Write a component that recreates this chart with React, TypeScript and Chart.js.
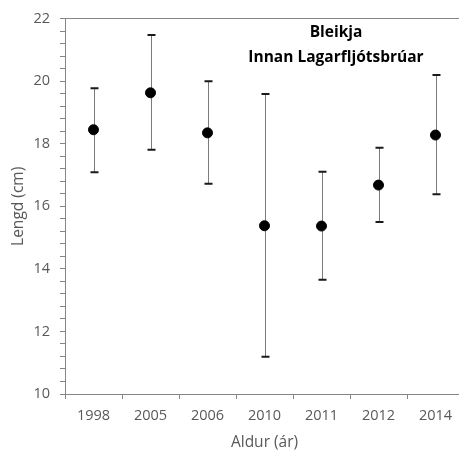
import React, { useEffect, useRef } from "react";
import { Chart, registerables } from "chart.js";

Chart.register(...registerables);

const categories = ["1998", "2005", "2006", "2010", "2011", "2012", "2014"];
const means = [18.45, 19.63, 18.35, 15.38, 15.37, 16.68, 18.28];
const upper = [19.78, 21.48, 20.0, 19.59, 17.11, 17.87, 20.2];
const lower = [17.09, 17.81, 16.72, 11.19, 13.65, 15.5, 16.39];
const titleLines = ["Bleikja", "Innan Lagarfljótsbrúar"];
const xTitle = "Aldur (ár)";
const yTitle = "Lengd (cm)";

const AXIS = "#868686";
const TEXT = "#595959";
const FONT = "'Open Sans', 'Liberation Sans', sans-serif";

const errorBarPlugin = {
  id: "errorBars",
  beforeDatasetsDraw(chart: any) {
    const { ctx, scales } = chart;
    const x = scales.x;
    const y = scales.y;
    ctx.save();
    categories.forEach((_, i) => {
      const px = Math.round(x.getPixelForValue(i)) + 0.5;
      const top = y.getPixelForValue(upper[i]);
      const bot = y.getPixelForValue(lower[i]);
      ctx.strokeStyle = "#7a7a7a";
      ctx.lineWidth = 1;
      ctx.beginPath();
      ctx.moveTo(px, top);
      ctx.lineTo(px, bot);
      ctx.stroke();
      ctx.strokeStyle = "#1a1a1a";
      ctx.lineWidth = 2;
      ctx.beginPath();
      ctx.moveTo(px - 4, top);
      ctx.lineTo(px + 4, top);
      ctx.moveTo(px - 4, bot);
      ctx.lineTo(px + 4, bot);
      ctx.stroke();
    });
    ctx.restore();
  },
};

const innerTitlePlugin = {
  id: "innerTitle",
  afterDraw(chart: any) {
    const { ctx } = chart;
    ctx.save();
    ctx.fillStyle = "#000";
    ctx.font = `bold 15.5px ${FONT}`;
    ctx.textAlign = "center";
    ctx.textBaseline = "middle";
    ctx.fillText(titleLines[0], 336, 33);
    ctx.fillText(titleLines[1], 336, 58);
    ctx.restore();
  },
};

export default function App() {
  const ref = useRef<HTMLCanvasElement>(null);
  useEffect(() => {
    if (!ref.current) return;
    const chart = new Chart(ref.current, {
      type: "line",
      data: {
        labels: categories,
        datasets: [
          {
            data: means,
            showLine: false,
            pointRadius: 5,
            pointHoverRadius: 5,
            pointBackgroundColor: "#000",
            pointBorderColor: "#000",
            borderColor: "#000",
          },
        ],
      },
      options: {
        animation: false,
        responsive: false,
        devicePixelRatio: 1,
        layout: { padding: { left: 0, top: 16, right: 2, bottom: 0 } },
        plugins: {
          legend: { display: false },
          tooltip: { enabled: false },
          title: { display: false },
        },
        scales: {
          x: {
            type: "category",
            offset: true,
            afterFit: (s: any) => {
              s.height = 60;
            },
            grid: {
              offset: true,
              drawOnChartArea: false,
              drawTicks: true,
              tickLength: 5,
              color: AXIS,
            },
            border: { color: AXIS, width: 1 },
            ticks: {
              color: TEXT,
              font: { family: FONT, size: 14.5 },
              padding: 8,
              maxRotation: 0,
            },
            title: {
              display: true,
              text: xTitle,
              color: TEXT,
              font: { family: FONT, size: 15.5 },
              padding: { top: 0, bottom: 2 },
            },
          },
          y: {
            min: 10,
            max: 22,
            afterFit: (s: any) => {
              s.width = 65;
            },
            grid: {
              drawOnChartArea: true,
              drawTicks: true,
              tickLength: 5,
              color: (c: any) =>
                c.tick && Math.abs(c.tick.value - 22) < 1e-6 ? AXIS : "rgba(0,0,0,0)",
              tickColor: AXIS,
            },
            border: { color: AXIS, width: 1 },
            ticks: {
              stepSize: 0.4,
              autoSkip: false,
              color: TEXT,
              font: { family: FONT, size: 14.5 },
              padding: 10,
              callback: (v: any) => {
                const n = Number(v);
                return Math.abs(n / 2 - Math.round(n / 2)) < 1e-6 ? String(Math.round(n)) : "";
              },
            },
            title: {
              display: true,
              text: yTitle,
              color: TEXT,
              font: { family: FONT, size: 15.5 },
              padding: { top: 9, bottom: 0 },
            },
          },
        },
      },
      plugins: [errorBarPlugin, innerTitlePlugin],
    } as any);
    return () => chart.destroy();
  }, []);

  return (
    <div
      style={{
        position: "absolute",
        left: 0,
        top: 0,
        width: 459,
        height: 454,
        overflow: "hidden",
        background: "#fff",
      }}
    >
      <canvas ref={ref} width={470} height={454} style={{ display: "block" }} />
    </div>
  );
}
